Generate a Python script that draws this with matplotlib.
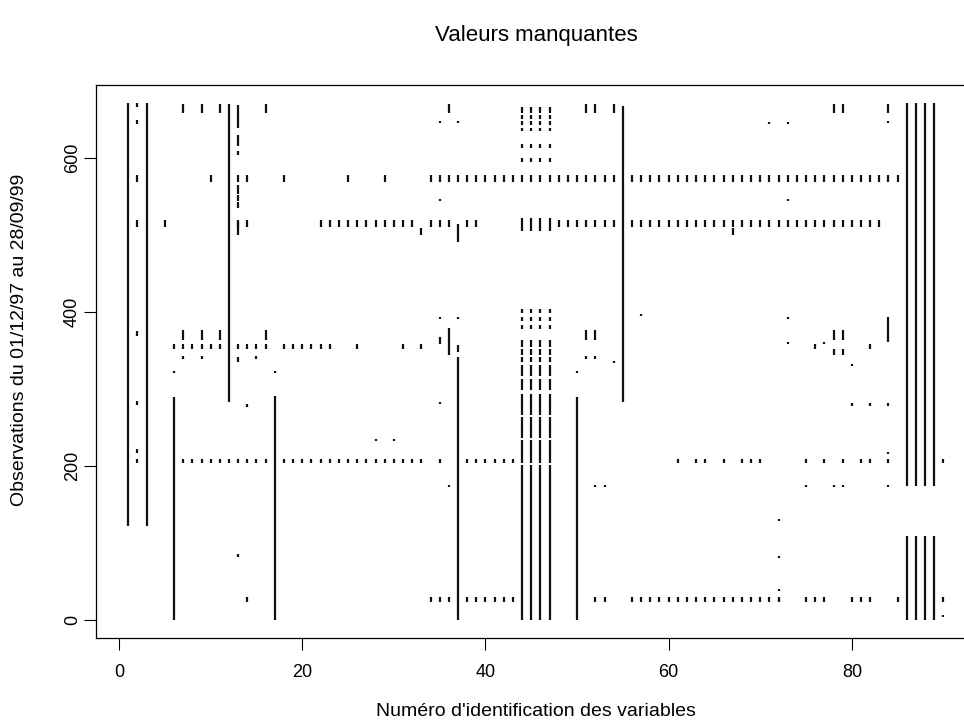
import numpy as np
import matplotlib
matplotlib.use('Agg')
import matplotlib.pyplot as plt

plt.rcParams['font.family'] = ['Liberation Sans', 'DejaVu Sans']

# long runs of missing observations: (variable, first obs, last obs)
long_runs = [(1, 123, 670), (3, 123, 670), (6, 1, 288), (12, 285, 668),
             (17, 1, 290), (37, 1, 340), (50, 1, 288), (55, 284, 666)]

# the four variables on the right share the same gaps
right_vars = [86, 87, 88, 89]
right_runs = [(1, 108), (175, 670)]

# variables 44-47 also share the same pattern
mid_vars = [44, 45, 46, 47]
mid_runs = [(1, 200), (206, 232), (238, 262), (268, 292), (300, 312),
            (318, 330), (336, 340), (346, 350), (356, 362), (380, 382),
            (390, 392), (400, 402), (507, 521), (596, 599), (614, 617),
            (636, 638), (644, 646), (652, 654), (660, 665)]

# days where many variables are missing at once
row_levels = [(570, 577), (512, 518), (353, 357), (206, 208), (25, 28)]
row_573 = [2, 10, 13, 14, 18, 25, 29, 34, 35, 36, 37, 38, 39, 40, 41, 42, 43,
           44, 45, 46, 47, 48, 49, 50, 51, 52, 53, 54, 56, 57, 58, 59, 60, 61,
           62, 63, 64, 65, 66, 67, 68, 69, 70, 71, 72, 73, 74, 75, 76, 77, 78,
           79, 80, 81, 82, 83, 84, 85]
row_515 = [2, 5, 13, 14, 22, 23, 24, 25, 26, 27, 28, 29, 30, 31, 32, 34, 35,
           36, 38, 39, 48, 49, 50, 51, 52, 53, 54, 56, 57, 58, 59, 60, 61, 62,
           63, 64, 65, 66, 67, 68, 69, 70, 71, 72, 73, 74, 75, 76, 77, 78, 79,
           80, 81, 82, 83]
row_355 = [6, 7, 8, 9, 10, 11, 13, 14, 15, 16, 18, 19, 20, 21, 22, 23, 26,
           31, 33, 76, 82]
row_207 = [2, 7, 8, 9, 10, 11, 12, 13, 14, 15, 16, 18, 19, 20, 21, 22, 23,
           24, 25, 26, 27, 28, 29, 30, 31, 32, 33, 35, 38, 39, 40, 41, 42, 43,
           61, 63, 64, 66, 68, 69, 70, 75, 77, 79, 81, 82, 84, 90]
row_27 = [14, 34, 35, 36, 38, 39, 40, 41, 42, 43, 52, 53, 56, 57, 58, 59, 60,
          61, 62, 63, 64, 65, 66, 67, 68, 69, 70, 71, 72, 75, 76, 77, 80, 81,
          82, 85, 90]
rows = [row_573, row_515, row_355, row_207, row_27]

# scattered marks: (variable, first obs, last obs)
isolated = [(2, 668, 670), (2, 646, 648), (2, 370, 374), (2, 281, 283),
            (2, 219, 221), (7, 660, 668), (9, 660, 668), (11, 660, 668),
            (16, 660, 668), (13, 656, 667), (13, 641, 654), (13, 617, 628),
            (13, 606, 608), (13, 555, 563), (13, 546, 550), (13, 537, 541),
            (13, 502, 515), (13, 336, 340), (13, 83, 84), (14, 278, 279),
            (7, 365, 375), (9, 365, 375), (11, 365, 375), (16, 365, 375),
            (7, 340, 341), (9, 340, 341), (15, 340, 341), (6, 322, 322),
            (17, 322, 322), (50, 322, 322), (28, 234, 234), (30, 234, 234),
            (33, 502, 507), (37, 493, 513), (35, 647, 647), (37, 647, 647),
            (36, 660, 668), (35, 545, 545), (35, 392, 392), (37, 392, 392),
            (35, 360, 366), (36, 345, 378), (37, 350, 356), (35, 282, 282),
            (36, 174, 174), (51, 660, 668), (52, 660, 668), (54, 660, 668),
            (51, 365, 375), (52, 365, 375), (51, 340, 341), (52, 340, 341),
            (54, 335, 335), (52, 174, 174), (53, 174, 174), (57, 396, 396),
            (67, 502, 508), (71, 645, 645), (73, 645, 645), (73, 545, 545),
            (73, 392, 392), (73, 360, 360), (72, 130, 130), (72, 82, 82),
            (72, 39, 39), (72, 26, 26), (75, 174, 174), (78, 174, 174),
            (79, 174, 174), (77, 360, 360), (78, 365, 375), (79, 365, 375),
            (78, 345, 350), (79, 345, 350), (80, 331, 331), (80, 280, 280),
            (82, 280, 280), (84, 280, 280), (84, 363, 392), (84, 217, 217),
            (84, 174, 174), (84, 647, 647), (84, 660, 668), (78, 660, 668),
            (79, 660, 668), (90, 5, 5)]

fig = plt.figure(figsize=(9.64, 7.25), dpi=100)
ax = fig.add_axes([0.0992, 0.12, 0.9133, 0.7628])

col = '#111111'
lw = 1.6
pad = 1.5


def draw(v, s, e):
    ax.vlines(v, s - pad, e + pad, colors=col, linewidth=lw)


for v, s, e in long_runs:
    draw(v, s, e)
for v in right_vars:
    for s, e in right_runs:
        draw(v, s, e)
for v in mid_vars:
    for s, e in mid_runs:
        draw(v, s, e)
for (s, e), vs in zip(row_levels, rows):
    for v in vs:
        draw(v, s, e)
for v, s, e in isolated:
    draw(v, s, e)

ax.set_xlim(-2.56, 93.56)
ax.set_ylim(-23.4, 694.8)
ax.set_xticks([0, 20, 40, 60, 80])
ax.set_yticks([0, 200, 400, 600])
ax.tick_params(axis='both', direction='out', length=8.6, width=0.8,
               labelsize=13, colors='black')
ax.tick_params(axis='x', pad=10)
ax.tick_params(axis='y', pad=2, labelrotation=90)
for lab in ax.get_yticklabels():
    lab.set_verticalalignment('center')
for sp in ax.spines.values():
    sp.set_linewidth(0.9)

fig.text(536 / 964, 1 - 35 / 725, 'Valeurs manquantes', ha='center',
         va='center', fontsize=16)
fig.text(536 / 964, 1 - 712 / 725, "Numéro d'identification des variables",
         ha='center', va='center', fontsize=14)
fig.text(20 / 964, 1 - 340 / 725, 'Observations du 01/12/97 au 28/09/99',
         ha='center', va='center', rotation=90, fontsize=14)

fig.savefig('out.png', dpi=100)
